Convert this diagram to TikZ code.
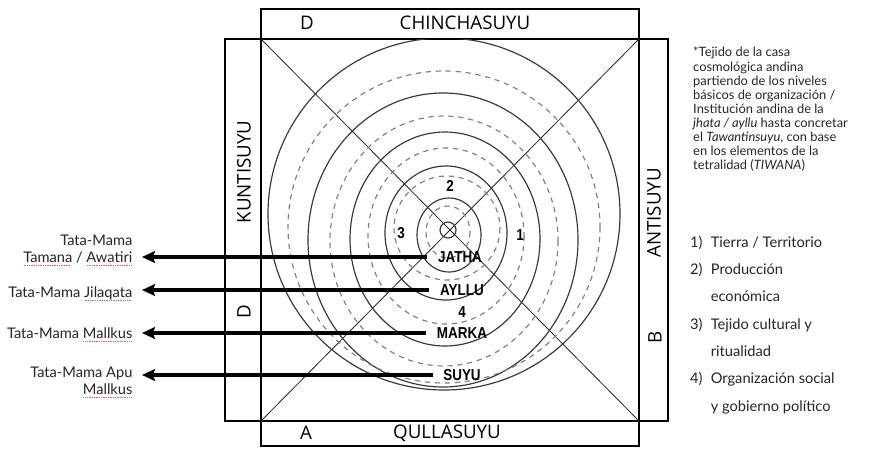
\documentclass[tikz,border=0pt]{standalone}
\usepackage{fontspec}
\setmainfont{Lato}
\newfontfamily\suyufont{Open Sans}
\newfontfamily\nivelfont{Liberation Sans}
\usetikzlibrary{arrows.meta,positioning}

% red spell-check line under a word
\newcommand{\spellmark}[1]{%
  \setbox0=\hbox{#1}%
  \rlap{\color{red!65}\raisebox{-2.6pt}{\hbox to \wd0{\leaders\hbox to 1.5pt{\hss\rule{0.8pt}{0.5pt}\hss}\hfill}}}#1}

\begin{document}
\begin{tikzpicture}[x=0.03cm, y=-0.03cm,
    frame/.style={line width=1.6pt},
    diag/.style={line width=0.7pt, black!85},
    ring/.style={line width=1pt, black!78},
    dring/.style={line width=1pt, black!50, dash pattern=on 4.5pt off 4pt},
    suyu/.style={font=\suyufont\fontsize{16}{18}\selectfont, inner sep=0pt},
    nivel/.style={font=\nivelfont\bfseries\fontsize{13.5}{14}\selectfont, inner xsep=9pt, inner ysep=1pt},
    tata/.style={font=\fontsize{12.5}{14.5}\selectfont, align=right, anchor=east,
                 inner xsep=8pt, inner ysep=0pt, text=black!85},
    arr/.style={-{Stealth[length=11pt, width=10pt, inset=1.5pt]}, line width=3.3pt},
  ]
  \useasboundingbox (0,0) rectangle (881,448);

  %% ---- marco de los cuatro suyus ----
  \draw[frame] (261,9) rectangle (639,446);
  \draw[frame] (225,39) rectangle (668,421);
  \draw[diag] (261,39) -- (639,421);
  \draw[diag] (261,421) -- (639,39);

  %% ---- circulos ----
  \begin{scope}
    \clip (261,39) rectangle (639,421);
    \foreach \cx/\cy/\rx/\ry in {448/230/8/8, 449/235/32/37, 446/233/61/67,
                                 445/239/95/107, 443/240/135/147, 444/214/176/176}
      \draw[ring] (\cx,\cy) ellipse [x radius=\rx, y radius=\ry];
    \foreach \cx/\cy/\rx/\ry in {448/232/22/26, 447/228/53/52, 446/236/78/88,
                                 444/241/114/125, 444/227/156/156}
      \draw[dring] (\cx,\cy) ellipse [x radius=\rx, y radius=\ry];
  \end{scope}

  %% ---- suyus ----
  \node[suyu] (d_top)   at (307,23)  {D};
  \node[suyu] (chincha) at (465,23)  {CHINCHASUYU};
  \node[suyu] (a_bot)   at (306,433) {A};
  \node[suyu] (qulla)   at (447,433) {QULLASUYU};
  \node[suyu, rotate=90] (kunti)   at (244,172) {KUNTISUYU};
  \node[suyu, rotate=90] (d_left)  at (244,312) {D};
  \node[suyu, rotate=90] (anti)    at (654,213) {ANTISUYU};
  \node[suyu, rotate=90] (b_right) at (655,337) {B};

  %% ---- niveles ----
  \node[nivel] (jatha) at (460,257) {\scalebox{0.85}[1]{JATHA}};
  \node[nivel] (ayllu) at (462,290) {\scalebox{0.85}[1]{AYLLU}};
  \node[nivel] (cuatro) at (462,312) {\scalebox{0.85}[1]{4}};
  \node[nivel] (marka) at (462,333) {\scalebox{0.85}[1]{MARKA}};
  \node[nivel] (suyu_n) at (462,375) {\scalebox{0.85}[1]{SUYU}};
  \node[nivel] (uno)  at (520,235) {\scalebox{0.85}[1]{1}};
  \node[nivel] (dos)  at (450,186) {\scalebox{0.85}[1]{2}};
  \node[nivel] (tres) at (401,233) {\scalebox{0.85}[1]{3}};

  %% ---- autoridades ----
  \node[tata] (tamana)   at (142,250) {Tata-Mama\\\spellmark{Tamana} / \spellmark{Awatiri}};
  \node[tata] (jilaqata) at (142,294) {Tata-Mama \spellmark{Jilaqata}};
  \node[tata] (mallkus)  at (142,335) {Tata-Mama \spellmark{Mallkus}};
  \node[tata] (apu)      at (142,382) {Tata-Mama Apu\\\spellmark{Mallkus}};

  \draw[arr] (jatha.west)  -- (jatha.west -| tamana.east);
  \draw[arr] (ayllu.west)  -- (ayllu.west -| jilaqata.east);
  \draw[arr] (marka.west)  -- (marka.west -| mallkus.east);
  \draw[arr] (suyu_n.west) -- (suyu_n.west -| apu.east);

  %% ---- nota y lista ----
  \node[anchor=north west, align=left, inner sep=0pt, text=black!85,
        font=\fontsize{11}{12}\selectfont] (nota) at (693,47)
    {*Tejido de la casa\\cosmológica andina\\partiendo de los niveles\\
     básicos de organización /\\Institución andina de la\\
     \emph{jhata / ayllu} hasta concretar\\el \emph{Tawantinsuyu}, con base\\
     en los elementos de la\\tetralidad (\emph{TIWANA})};

  \node[anchor=north west, inner sep=0pt, text=black!85,
        font=\fontsize{12.5}{23.3}\selectfont] (lista) at (690,228)
    {\begin{tabular}{@{}l@{\hspace{7pt}}l@{}}
       1) & Tierra / Territorio\\
       2) & Producción\\
          & económica\\
       3) & Tejido cultural y\\
          & ritualidad\\
       4) & Organización social\\
          & y gobierno político
     \end{tabular}};

\end{tikzpicture}
\end{document}
